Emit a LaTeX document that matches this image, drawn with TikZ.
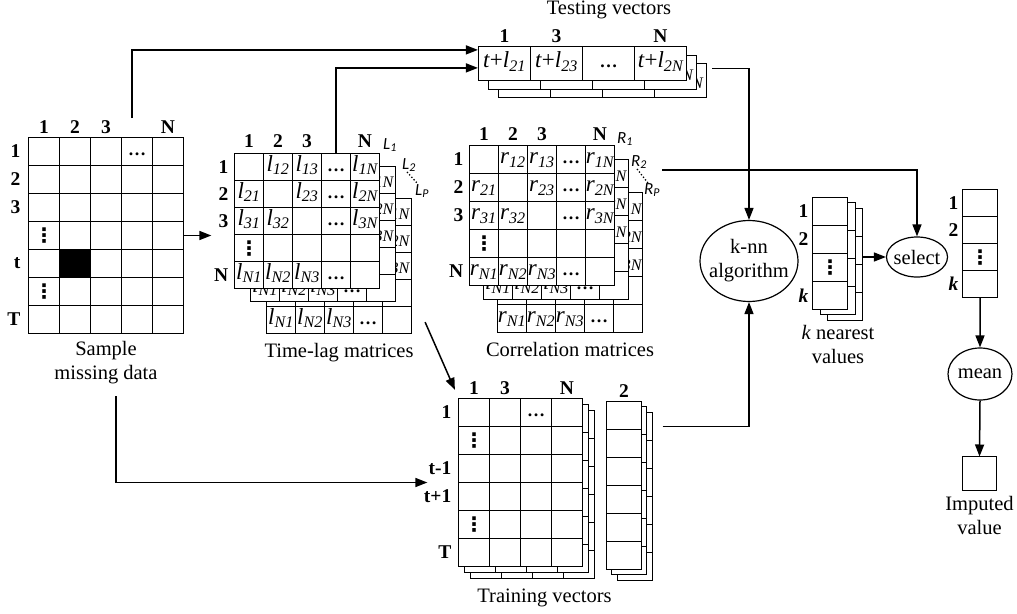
\documentclass[tikz,border=0pt]{standalone}
\usepackage{fontspec}
\setmainfont{Liberation Serif}
\setsansfont{Carlito}
\newfontfamily\symfont{DejaVu Sans}
\usepackage{tikz}
\usetikzlibrary{shapes.geometric, arrows.meta, positioning, matrix, calc}

\newcommand{\lagv}[1]{\textit{l\textsubscript{#1}}}
\newcommand{\corv}[1]{\textit{r\textsubscript{#1}}}
\newcommand{\tstv}[1]{\textit{t}+\lagv{2#1}}
\newcommand{\hdt}{{\bfseries\fontsize{18}{18}\selectfont\dots}}
\newcommand{\vdt}{\raisebox{-3pt}[0pt][0pt]{\symfont\bfseries\fontsize{20}{20}\selectfont ⋮}}

\tikzset{
  cell/.style={
    draw, fill=white, line width=1.2pt, inner sep=0pt, outer sep=0pt,
    anchor=center, text height=12pt, text depth=4pt,
    font=\fontsize{23}{24}\selectfont
  },
  cellmat/.style 2 args={
    matrix of nodes, nodes in empty cells, ampersand replacement=\&,
    anchor=north west, inner sep=0pt, outer sep=0pt,
    column sep=-1.2pt, row sep=-1.2pt,
    nodes={cell, minimum width=#1, minimum height=#2}
  },
  idxlabel/.style={
    font=\bfseries\fontsize{19.5}{20}\selectfont, inner sep=1pt
  },
  caplabel/.style={
    font=\fontsize{20.5}{24}\selectfont, align=center, inner sep=2pt
  },
  layerlabel/.style={
    font=\sffamily\itshape\fontsize{17}{18}\selectfont, inner sep=0pt
  },
  procnode/.style={
    ellipse, draw, line width=1.2pt, inner sep=0pt, align=center,
    font=\fontsize{20.5}{24}\selectfont
  },
  flowarrow/.style={
    -{Triangle[length=12pt,width=9pt]}, line width=1.5pt
  },
  dotsline/.style={dotted, line width=1.3pt},
}

% front layer of a lag / correlation matrix
\newcommand{\valmat}[4]{%
  \matrix[cellmat={29}{#4}] (#1) at ([xshift=-0.6pt,yshift=0.6pt]#2) {
           \& #3{12} \& #3{13} \& \hdt \& #3{1N} \\
    #3{21} \&        \& #3{23} \& \hdt \& #3{2N} \\
    #3{31} \& #3{32} \&        \& \hdt \& #3{3N} \\
    \vdt   \&        \&        \&      \&        \\
    #3{N1} \& #3{N2} \& #3{N3} \& \hdt \&        \\
  };}
% back layer: only the cells that peek out
\newcommand{\valback}[4]{%
  \matrix[cellmat={29}{#4}] (#1) at ([xshift=-0.6pt,yshift=0.6pt]#2) {
           \&        \&        \&      \& #3{1N} \\
           \&        \&        \&      \& #3{2N} \\
           \&        \&        \&      \& #3{3N} \\
           \&        \&        \&      \&        \\
    #3{N1} \& #3{N2} \& #3{N3} \& \hdt \&        \\
  };}
% one layer of the testing vectors
\newcommand{\tstmat}[2]{%
  \matrix[cellmat={52}{34}] (#1) at ([xshift=-0.6pt,yshift=0.6pt]#2) {
    \tstv{1} \& \tstv{3} \& \hdt \& \tstv{N} \\
  };}
% one layer of the training vectors
\newcommand{\trnmat}[2]{%
  \matrix[cellmat={31}{28}] (#1) at ([xshift=-0.6pt,yshift=0.6pt]#2) {
         \& \& \hdt \& \\
    \vdt \& \&      \& \\
         \& \&      \& \\
         \& \&      \& \\
    \vdt \& \&      \& \\
         \& \&      \& \\
  };}
% a single column vector
\newcommand{\vecmat}[3]{%
  \matrix[cellmat={35}{28}] (#1) at ([xshift=-0.6pt,yshift=0.6pt]#2) {#3};}

\begin{document}
\begin{tikzpicture}[x=1pt, y=-1pt]
  \useasboundingbox (0,0) rectangle (1017,613);

  % Sample missing data
  \matrix[cellmat={31}{28}] (smp) at ([xshift=-0.6pt,yshift=0.6pt]28.5,137.5) {
         \&                \& \& \hdt \& \\
         \&                \& \&      \& \\
         \&                \& \&      \& \\
    \vdt \&                \& \&      \& \\
         \& |[fill=black]| \& \&      \& \\
    \vdt \&                \& \&      \& \\
         \&                \& \&      \& \\
  };
  \node[idxlabel, above=3pt of smp-1-1] (smpc1) {1};
  \node[idxlabel, above=3pt of smp-1-2] (smpc2) {2};
  \node[idxlabel, above=3pt of smp-1-3] (smpc3) {3};
  \node[idxlabel, above=3pt of smp-1-5] (smpcN) {N};
  \node[idxlabel, left=7pt of smp-1-1] (smpr1) {1};
  \node[idxlabel, left=7pt of smp-2-1] (smpr2) {2};
  \node[idxlabel, left=7pt of smp-3-1] (smpr3) {3};
  \node[idxlabel, left=7pt of smp-5-1] (smprt) {t};
  \node[idxlabel, left=7pt of smp-7-1] (smprT) {T};
  \node[caplabel, below=5pt of smp] (smplbl) {Sample\\missing data};

  % Time-lag matrices
  \valback{lagP}{266.5,198.5}{\lagv}{27}
  \valback{lag2}{250.5,166.5}{\lagv}{27}
  \valmat{lag1}{234.5,153.5}{\lagv}{27}
  \node[idxlabel, above=5pt of lag1-1-1] (lagc1) {1};
  \node[idxlabel, above=5pt of lag1-1-2] (lagc2) {2};
  \node[idxlabel, above=5pt of lag1-1-3] (lagc3) {3};
  \node[idxlabel, above=5pt of lag1-1-5] (lagcN) {N};
  \node[idxlabel, left=5pt of lag1-1-1] (lagr1) {1};
  \node[idxlabel, left=5pt of lag1-2-1] (lagr2) {2};
  \node[idxlabel, left=5pt of lag1-3-1] (lagr3) {3};
  \node[idxlabel, left=5pt of lag1-5-1] (lagrN) {N};
  \node[layerlabel] (Lone) at (390,145) {L\textsubscript{1}};
  \node[layerlabel] (Ltwo) at (409,165) {L\textsubscript{2}};
  \node[layerlabel] (LP) at (422,191) {L\textsubscript{P}};
  \draw[dotsline] ([xshift=-2pt]Ltwo.south) -- ([xshift=-4pt]LP.north);
  \node[caplabel, below=7pt of lagP] (laglbl) {Time-lag matrices};

  % Correlation matrices
  \valback{corP}{497.5,192.5}{\corv}{28}
  \valback{cor2}{483.5,159.5}{\lagv}{28}
  \valmat{cor1}{469.5,145.5}{\corv}{28}
  \node[idxlabel, above=4pt of cor1-1-1] (corc1) {1};
  \node[idxlabel, above=4pt of cor1-1-2] (corc2) {2};
  \node[idxlabel, above=4pt of cor1-1-3] (corc3) {3};
  \node[idxlabel, above=4pt of cor1-1-5] (corcN) {N};
  \node[idxlabel, left=5pt of cor1-1-1] (corr1) {1};
  \node[idxlabel, left=5pt of cor1-2-1] (corr2) {2};
  \node[idxlabel, left=5pt of cor1-3-1] (corr3) {3};
  \node[idxlabel, left=5pt of cor1-5-1] (corrN) {N};
  \node[layerlabel] (Rone) at (625,139) {R\textsubscript{1}};
  \node[layerlabel] (Rtwo) at (639,162) {R\textsubscript{2}};
  \node[layerlabel] (RP) at (652,190) {R\textsubscript{P}};
  \draw[dotsline] ([xshift=-2pt]Rtwo.south) -- ([xshift=-4pt]RP.north);
  \node[caplabel, below=7pt of corP] (corlbl) {Correlation matrices};

  % Testing vectors
  \tstmat{tst3}{498.5,63.5}
  \tstmat{tst2}{488.5,55.5}
  \tstmat{tst1}{478.5,46.5}
  \node[idxlabel, above=3pt of tst1-1-1] (tstc1) {1};
  \node[idxlabel, above=3pt of tst1-1-2] (tstc3) {3};
  \node[idxlabel, above=3pt of tst1-1-4] (tstcN) {N};
  \node[caplabel] (tstlbl) at (609,10) {Testing vectors};

  % Training vectors
  \trnmat{trn3}{470.5,410.5}
  \trnmat{trn2}{464.5,404.5}
  \trnmat{trn1}{458.5,398.5}
  \vecmat{trc3}{617.5,412.5}{{}\\ {}\\ {}\\ {}\\ {}\\ {}\\}
  \vecmat{trc2}{611.5,406.5}{{}\\ {}\\ {}\\ {}\\ {}\\ {}\\}
  \vecmat{trc1}{606.5,401.5}{{}\\ {}\\ {}\\ {}\\ {}\\ {}\\}
  \node[idxlabel, above=3pt of trn1-1-1] (trnc1) {1};
  \node[idxlabel, above=3pt of trn1-1-2] (trnc3) {3};
  \node[idxlabel, above=3pt of trn1-1-4] (trncN) {N};
  \node[idxlabel, above=3pt of trc1-1-1] (trcc2) {2};
  \node[idxlabel, left=6pt of trn1-1-1] (trnr1) {1};
  \node[idxlabel, left=6pt of trn1-3-1] (trntm) {t-1};
  \node[idxlabel, left=6pt of trn1-4-1] (trntp) {t+1};
  \node[idxlabel, left=6pt of trn1-6-1] (trnrT) {T};
  \node[caplabel, below=8pt of trn3, xshift=12pt] (trnlbl) {Training vectors};

  % k-nn, selection and mean
  \node[procnode, minimum width=98, minimum height=81, inner xsep=-10pt]
    (knn) at (749,261) {k-nn\\algorithm};
  \vecmat{knr3}{827.5,208.5}{{}\\ {}\\ \vdt\\ {}\\}
  \vecmat{knr2}{820.5,202.5}{{}\\ {}\\ \vdt\\ {}\\}
  \vecmat{knr1}{812.5,197.5}{{}\\ {}\\ \vdt\\ {}\\}
  \node[idxlabel, left=3pt of knr1-1-1] (knrr1) {1};
  \node[idxlabel, left=3pt of knr1-2-1] (knrr2) {2};
  \node[idxlabel, left=3pt of knr1-4-1] (knrrk) {\textit{k}};
  \node[caplabel, below=8pt of knr2] (knrlbl) {\textit{k} nearest\\values};
  \node[procnode, minimum width=61, minimum height=40, inner xsep=-4pt]
    (sel) at (917,257) {select};
  \matrix[cellmat={35}{27}] (knc) at ([xshift=-0.6pt,yshift=0.6pt]962.5,189.5) {
    {}\\ {}\\ \vdt\\ {}\\
  };
  \node[idxlabel, left=3pt of knc-1-1] (kncr1) {1};
  \node[idxlabel, left=3pt of knc-2-1] (kncr2) {2};
  \node[idxlabel, left=3pt of knc-4-1] (kncrk) {\textit{k}};
  \node[procnode, minimum width=64, minimum height=52] (mean) at (980,374) {mean};
  \node[cell, minimum width=34, minimum height=34] (imp) at (979.5,473.5) {};
  \node[caplabel, below=4pt of imp] (implbl) {Imputed\\value};

  % Connections
  \coordinate (smptap) at (132,118);
  \coordinate (cortap) at (662,170);
  \draw[flowarrow] (smptap) |- ([yshift=-4pt]tst1.north west);
  \draw[flowarrow] (lag1-1-4.north) |- ([yshift=-22pt]tst1.north west);
  \draw[flowarrow] (smp-4-5.east) -- ($(smp-4-5.east -| lagr3.west) + (-6pt,0)$);
  \draw[flowarrow] ([xshift=10pt,yshift=-10pt]smplbl.south) |- (trn1-3-1.south -| trntm.west);
  \draw[flowarrow] ([shift={(13pt,12pt)}]lagP.south east) -- ([shift={(-3pt,8pt)}]trn1.north west);
  \draw[flowarrow] ([xshift=5pt,yshift=12pt]tst3.east) -| (knn.north);
  \draw[flowarrow] ([xshift=10pt]trc3-1-1.east) -| (knn.south);
  \draw[flowarrow] (cortap) -| (sel.north);
  \draw[flowarrow] (knr3.east |- sel.west) -- (sel.west);
  \draw[flowarrow] (knc.south) -- (mean.north);
  \draw[flowarrow] (mean.south) -- (imp.north);
\end{tikzpicture}
\end{document}
